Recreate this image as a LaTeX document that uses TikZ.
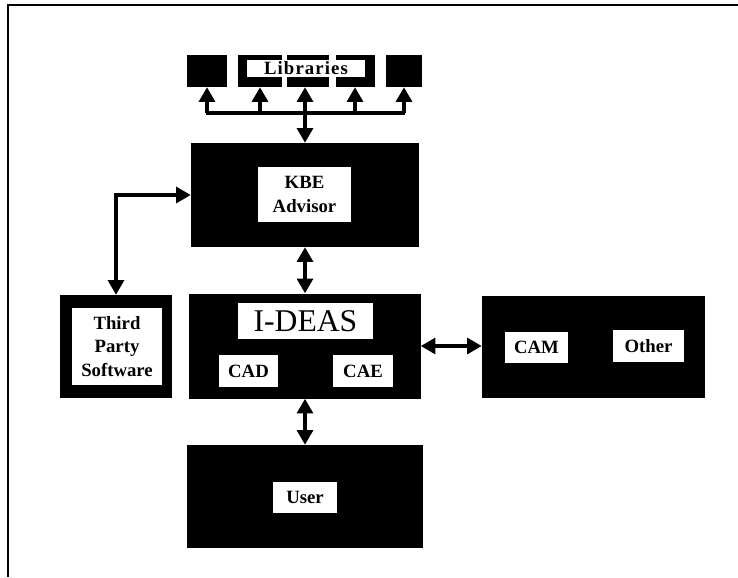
\documentclass[tikz,border=0pt]{standalone}
\usepackage{fontspec}
\setmainfont{Liberation Serif}
\usetikzlibrary{arrows.meta}

\begin{document}
\begin{tikzpicture}[
x=0.03cm, y=-0.03cm,
blk/.style={fill=black, draw=none, inner sep=0pt},
lbl/.style={fill=white, text=black, inner sep=0pt, align=center, font=\bfseries\fontsize{16}{20}\selectfont},
arrow/.style={-{Triangle[length=12.5pt,width=13.5pt]}, line width=3pt},
dblarrow/.style={{Triangle[length=12.5pt,width=13.5pt]}-{Triangle[length=12.5pt,width=13.5pt]}, line width=3pt} ]

\useasboundingbox (0,0) rectangle (738,577);
\draw[line width=1.2pt] (8,577) -- (8,5) -- (738,5);

% libraries row
\node[blk, minimum width=1.2cm, minimum height=0.96cm] (lib1) at (207,71) {};
\node[blk, minimum width=1.32cm, minimum height=0.96cm] (lib2) at (260,71) {};
\node[blk, minimum width=1.26cm, minimum height=0.96cm] (lib3) at (308,71) {};
\node[blk, minimum width=1.17cm, minimum height=0.96cm] (lib4) at (355,71) {};
\node[blk, minimum width=1.08cm, minimum height=0.96cm] (lib5) at (404,71) {};
\node[lbl, minimum width=3.54cm, minimum height=0.51cm, font=\bfseries\fontsize{16}{20}\selectfont\addfontfeature{LetterSpace=6}] (libs) at (306,68.5) {Libraries};

% main blocks
\node[blk, minimum width=6.84cm, minimum height=3.12cm] (kbe) at (305,195) {};
\node[lbl, minimum width=2.79cm, minimum height=1.65cm] (kbelabel) at (304.5,194.5) {KBE\\Advisor};

\node[blk, minimum width=3.36cm, minimum height=3.09cm] (third) at (116,346.5) {};
\node[lbl, minimum width=2.7cm, minimum height=2.31cm] (thirdlabel) at (117,346.5) {Third\\Party\\Software};

\node[blk, minimum width=6.93cm, minimum height=3.15cm] (ideas) at (305,346) {};
\node[lbl, minimum width=4.05cm, minimum height=1.08cm, font=\fontsize{27}{30}\selectfont] (ideaslabel) at (305.5,321) {I-DEAS};
\node[lbl, minimum width=1.77cm, minimum height=0.96cm] (cad) at (248.5,371) {CAD};
\node[lbl, minimum width=1.8cm, minimum height=0.96cm] (cae) at (363,371) {CAE};

\node[blk, minimum width=6.69cm, minimum height=3.06cm] (manuf) at (593.5,347) {};
\node[lbl, minimum width=1.89cm, minimum height=0.93cm] (cam) at (536.5,347.5) {CAM};
\node[lbl, minimum width=2.13cm, minimum height=0.96cm] (other) at (648.5,346) {Other};

\node[blk, minimum width=7.08cm, minimum height=3.09cm] (user) at (305,496.5) {};
\node[lbl, minimum width=1.92cm, minimum height=0.93cm] (userlabel) at (305,497.5) {User};

% connectors
\coordinate (busL) at (206,113);
\coordinate (busR) at (405,113);
\draw[line width=3pt] (busL) -- (busR);
\foreach \i in {1,2,4,5}
  \draw[arrow] (lib\i.south |- busL) -- (lib\i.south);
\draw[dblarrow] (kbe.north |- lib3.south) -- (kbe.north);
\draw[dblarrow] (third.north) |- (kbe.west);
\draw[dblarrow] (kbe.south) -- (ideas.north);
\draw[dblarrow] (ideas.east) -- (manuf.west |- ideas.east);
\draw[dblarrow] (ideas.south) -- (user.north);

\end{tikzpicture}
\end{document}
